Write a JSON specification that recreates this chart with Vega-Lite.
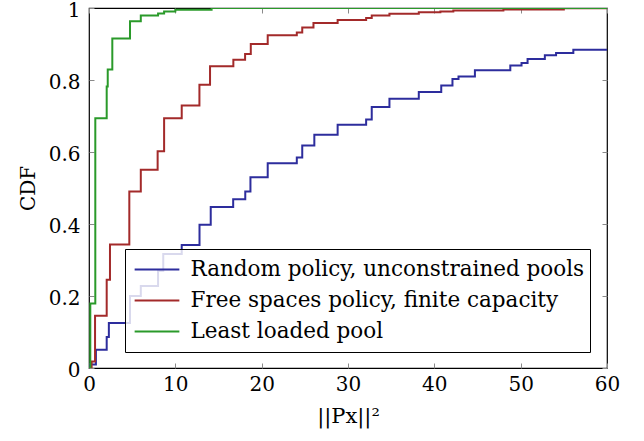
{
  "$schema": "https://vega.github.io/schema/vega-lite/v6.json",
  "width": 518,
  "height": 360,
  "autosize": "none",
  "padding": {"left": 89, "top": 8, "right": 37, "bottom": 73},
  "background": "white",
  "config": {
    "font": "DejaVu Serif",
    "view": {"stroke": "black", "strokeWidth": 1.2},
    "axis": {
      "labelFont": "DejaVu Serif",
      "titleFont": "DejaVu Serif",
      "labelFontSize": 20,
      "titleFontSize": 20,
      "titleFontWeight": "normal",
      "labelColor": "black",
      "titleColor": "black",
      "gridColor": "#d4d4d4",
      "gridWidth": 1,
      "domain": false,
      "ticks": true,
      "tickSize": -5,
      "tickColor": "#8a8a8a",
      "tickWidth": 1
    },
    "legend": {
      "labelFont": "DejaVu Serif",
      "labelFontSize": 21.5,
      "labelColor": "black"
    }
  },
  "datasets": {
    "cdf": [
      {"x": 0, "y": 0, "s": "Random policy, unconstrained pools"},
      {"x": 0.1, "y": 0.01, "s": "Random policy, unconstrained pools"},
      {"x": 0.8, "y": 0.051, "s": "Random policy, unconstrained pools"},
      {"x": 2.05, "y": 0.086, "s": "Random policy, unconstrained pools"},
      {"x": 2.3, "y": 0.125, "s": "Random policy, unconstrained pools"},
      {"x": 4.75, "y": 0.2, "s": "Random policy, unconstrained pools"},
      {"x": 6.0, "y": 0.228, "s": "Random policy, unconstrained pools"},
      {"x": 8.0, "y": 0.27, "s": "Random policy, unconstrained pools"},
      {"x": 8.6, "y": 0.317, "s": "Random policy, unconstrained pools"},
      {"x": 10.74, "y": 0.342, "s": "Random policy, unconstrained pools"},
      {"x": 12.8, "y": 0.398, "s": "Random policy, unconstrained pools"},
      {"x": 14.1, "y": 0.447, "s": "Random policy, unconstrained pools"},
      {"x": 16.7, "y": 0.469, "s": "Random policy, unconstrained pools"},
      {"x": 18.1, "y": 0.49, "s": "Random policy, unconstrained pools"},
      {"x": 18.7, "y": 0.53, "s": "Random policy, unconstrained pools"},
      {"x": 20.7, "y": 0.569, "s": "Random policy, unconstrained pools"},
      {"x": 24.07, "y": 0.585, "s": "Random policy, unconstrained pools"},
      {"x": 24.7, "y": 0.618, "s": "Random policy, unconstrained pools"},
      {"x": 26.1, "y": 0.648, "s": "Random policy, unconstrained pools"},
      {"x": 28.8, "y": 0.676, "s": "Random policy, unconstrained pools"},
      {"x": 32.1, "y": 0.69, "s": "Random policy, unconstrained pools"},
      {"x": 32.75, "y": 0.725, "s": "Random policy, unconstrained pools"},
      {"x": 34.8, "y": 0.748, "s": "Random policy, unconstrained pools"},
      {"x": 38.2, "y": 0.767, "s": "Random policy, unconstrained pools"},
      {"x": 40.8, "y": 0.785, "s": "Random policy, unconstrained pools"},
      {"x": 42.1, "y": 0.803, "s": "Random policy, unconstrained pools"},
      {"x": 42.8, "y": 0.81, "s": "Random policy, unconstrained pools"},
      {"x": 44.7, "y": 0.827, "s": "Random policy, unconstrained pools"},
      {"x": 48.8, "y": 0.84, "s": "Random policy, unconstrained pools"},
      {"x": 50.1, "y": 0.847, "s": "Random policy, unconstrained pools"},
      {"x": 50.8, "y": 0.858, "s": "Random policy, unconstrained pools"},
      {"x": 52.8, "y": 0.869, "s": "Random policy, unconstrained pools"},
      {"x": 54.1, "y": 0.875, "s": "Random policy, unconstrained pools"},
      {"x": 56.1, "y": 0.884, "s": "Random policy, unconstrained pools"},
      {"x": 60, "y": 0.884, "s": "Random policy, unconstrained pools"},
      {"x": 0, "y": 0, "s": "Free spaces policy, finite capacity"},
      {"x": 0.3, "y": 0.018, "s": "Free spaces policy, finite capacity"},
      {"x": 0.7, "y": 0.145, "s": "Free spaces policy, finite capacity"},
      {"x": 2.05, "y": 0.245, "s": "Free spaces policy, finite capacity"},
      {"x": 2.43, "y": 0.343, "s": "Free spaces policy, finite capacity"},
      {"x": 4.67, "y": 0.49, "s": "Free spaces policy, finite capacity"},
      {"x": 6.0, "y": 0.551, "s": "Free spaces policy, finite capacity"},
      {"x": 7.95, "y": 0.602, "s": "Free spaces policy, finite capacity"},
      {"x": 8.7, "y": 0.694, "s": "Free spaces policy, finite capacity"},
      {"x": 10.74, "y": 0.729, "s": "Free spaces policy, finite capacity"},
      {"x": 12.79, "y": 0.787, "s": "Free spaces policy, finite capacity"},
      {"x": 14.02, "y": 0.838, "s": "Free spaces policy, finite capacity"},
      {"x": 16.72, "y": 0.856, "s": "Free spaces policy, finite capacity"},
      {"x": 18.08, "y": 0.872, "s": "Free spaces policy, finite capacity"},
      {"x": 18.74, "y": 0.9, "s": "Free spaces policy, finite capacity"},
      {"x": 20.7, "y": 0.924, "s": "Free spaces policy, finite capacity"},
      {"x": 24.07, "y": 0.932, "s": "Free spaces policy, finite capacity"},
      {"x": 24.7, "y": 0.946, "s": "Free spaces policy, finite capacity"},
      {"x": 26.0, "y": 0.958, "s": "Free spaces policy, finite capacity"},
      {"x": 28.8, "y": 0.967, "s": "Free spaces policy, finite capacity"},
      {"x": 32.1, "y": 0.972, "s": "Free spaces policy, finite capacity"},
      {"x": 32.75, "y": 0.979, "s": "Free spaces policy, finite capacity"},
      {"x": 34.8, "y": 0.984, "s": "Free spaces policy, finite capacity"},
      {"x": 38.2, "y": 0.988, "s": "Free spaces policy, finite capacity"},
      {"x": 40.7, "y": 0.99, "s": "Free spaces policy, finite capacity"},
      {"x": 42.2, "y": 0.993, "s": "Free spaces policy, finite capacity"},
      {"x": 48.0, "y": 0.996, "s": "Free spaces policy, finite capacity"},
      {"x": 55.0, "y": 0.999, "s": "Free spaces policy, finite capacity"},
      {"x": 60, "y": 0.999, "s": "Free spaces policy, finite capacity"},
      {"x": 0, "y": 0, "s": "Least loaded pool"},
      {"x": 0.15, "y": 0.179, "s": "Least loaded pool"},
      {"x": 0.73, "y": 0.694, "s": "Least loaded pool"},
      {"x": 2.05, "y": 0.782, "s": "Least loaded pool"},
      {"x": 2.17, "y": 0.829, "s": "Least loaded pool"},
      {"x": 2.7, "y": 0.915, "s": "Least loaded pool"},
      {"x": 4.75, "y": 0.963, "s": "Least loaded pool"},
      {"x": 6.0, "y": 0.979, "s": "Least loaded pool"},
      {"x": 8.0, "y": 0.985, "s": "Least loaded pool"},
      {"x": 8.7, "y": 0.99, "s": "Least loaded pool"},
      {"x": 10.0, "y": 0.995, "s": "Least loaded pool"},
      {"x": 14.2, "y": 1.0, "s": "Least loaded pool"},
      {"x": 60, "y": 1.0, "s": "Least loaded pool"}
    ]
  },
  "data": {"name": "cdf"},
  "resolve": {"axis": {"x": "independent", "y": "independent"}},
  "layer": [
    {
      "mark": {"type": "point", "opacity": 0},
      "encoding": {
        "x": {
          "field": "x", "type": "quantitative",
          "scale": {"domain": [0, 60], "nice": false},
          "axis": {"orient": "top", "values": [0, 10, 20, 30, 40, 50, 60], "labels": false, "grid": false, "title": null}
        },
        "y": {
          "field": "y", "type": "quantitative",
          "scale": {"domain": [0, 1], "nice": false},
          "axis": {"orient": "right", "values": [0, 0.2, 0.4, 0.6, 0.8, 1], "labels": false, "grid": false, "title": null}
        }
      }
    },
    {
      "mark": {"type": "line", "interpolate": "step-after", "strokeWidth": 2, "clip": true},
      "encoding": {
        "x": {
          "field": "x", "type": "quantitative",
          "scale": {"domain": [0, 60], "nice": false},
          "axis": {"values": [0, 10, 20, 30, 40, 50, 60], "title": "||Px||²", "titleFontSize": 21, "labelPadding": 11, "titlePadding": 11, "labelFlush": false}
        },
        "y": {
          "field": "y", "type": "quantitative",
          "scale": {"domain": [0, 1], "nice": false},
          "axis": {"values": [0, 0.2, 0.4, 0.6, 0.8, 1], "format": "~g", "title": "CDF", "labelPadding": 14, "labelOffset": 2, "titlePadding": 10, "labelFlush": false}
        },
        "color": {
          "field": "s", "type": "nominal",
          "scale": {
            "domain": ["Random policy, unconstrained pools", "Free spaces policy, finite capacity", "Least loaded pool"],
            "range": ["#2d2d9d", "#a32a2a", "#2a9a2a"]
          },
          "legend": {
            "title": null,
            "orient": "none",
            "legendX": 36,
            "legendY": 241,
            "symbolType": "stroke",
            "symbolSize": 2000,
            "symbolStrokeWidth": 1.8,
            "symbolOffset": 3.5,
            "labelOffset": 10,
            "clipHeight": 31,
            "rowPadding": 0,
            "padding": 5,
            "fillColor": "rgba(255,255,255,0.82)",
            "strokeColor": "black",
            "labelLimit": 500
          }
        }
      }
    }
  ]
}
